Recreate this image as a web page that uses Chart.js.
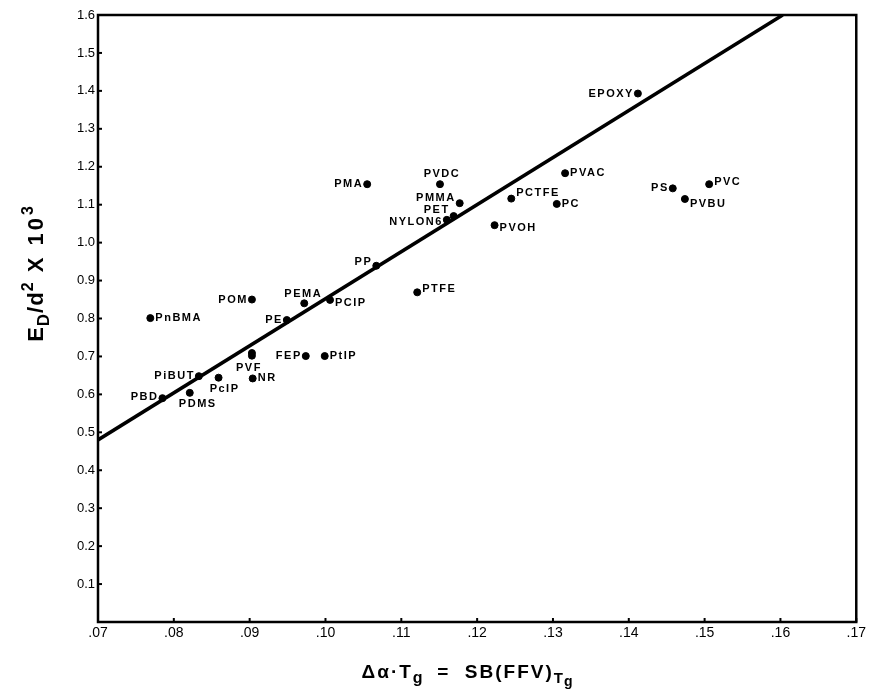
<!DOCTYPE html>
<html>
<head>
<meta charset="utf-8">
<script src="https://cdn.jsdelivr.net/npm/chart.js@4.4.0/dist/chart.umd.min.js"></script>
<style>
html, body { margin: 0; padding: 0; background: #fff; }
</style>
</head>
<body>
<canvas id="chart" width="869" height="698"></canvas>
<script>
// polymers, free volume fraction (x) and E_D/d^2 x 10^3 (y)
var polymers = ['PnBMA','POM','PEMA','PCIP','PE','PVF','','FEP','PtIP','PiBUT','PcIP','NR','PBD','PDMS',
	'PMA','PVDC','PMMA','PET','NYLON6','PCTFE','PC','PVOH','PVAC','PP','PTFE','EPOXY','PS','PVC','PVBU'];
var ffv = [0.0769,0.0903,0.0972,0.1006,0.0949,0.0903,0.0903,0.0974,0.0999,0.0833,0.0859,0.0904,0.0785,0.0821,
	0.1055,0.1151,0.1177,0.1169,0.1160,0.1245,0.1305,0.1223,0.1316,0.1067,0.1121,0.1412,0.1458,0.1506,0.1474];
var energy = [0.801,0.850,0.840,0.849,0.796,0.702,0.709,0.701,0.701,0.648,0.644,0.642,0.590,0.604,
	1.154,1.154,1.104,1.070,1.060,1.116,1.102,1.046,1.183,0.939,0.869,1.393,1.143,1.154,1.115];

// fitted straight line
var fitX = [0.07, 0.1603];
var fitY = [0.48, 1.60];

// axis ticks
var xTicks = [0.07,0.08,0.09,0.10,0.11,0.12,0.13,0.14,0.15,0.16,0.17];
var yTicks = [0.1,0.2,0.3,0.4,0.5,0.6,0.7,0.8,0.9,1.0,1.1,1.2,1.3,1.4,1.5,1.6];

// where each label sits relative to its dot: side, dx, dy
var labelPlace = {
	PnBMA:['r',0,0], POM:['l',0,0], PEMA:['t',-1,-9], PCIP:['r',0,3], PE:['l',0,0],
	PVF:['b',-3,12], FEP:['l',0,0], PtIP:['r',0,0], PiBUT:['l',0,0], PcIP:['b',6,11],
	NR:['r',0,0], PBD:['l',0,-1], PDMS:['b',8,11], PMA:['l',0,0], PVDC:['t',2,-10],
	PMMA:['l',0,-5], PET:['l',0,-6], NYLON6:['l',0,2], PCTFE:['r',0,-6], PC:['r',0,0],
	PVOH:['r',0,3], PVAC:['r',0,0], PP:['l',0,-4], PTFE:['r',0,-3], EPOXY:['l',0,0],
	PS:['l',0,0], PVC:['r',0,-2], PVBU:['r',0,5]
};

var points = [];
for (var i = 0; i < ffv.length; i++) points.push({x: ffv[i], y: energy[i]});
var fitLine = [];
for (var j = 0; j < fitX.length; j++) fitLine.push({x: fitX[j], y: fitY[j]});

function drawParts(ctx, parts, x, y, center) {
	var w = 0;
	parts.forEach(function(p) {
		ctx.font = 'bold ' + p.size + 'px "Liberation Sans", Arial, sans-serif';
		ctx.letterSpacing = (p.ls || 0) + 'px';
		w += ctx.measureText(p.t).width;
	});
	var cx = center ? x - w / 2 : x;
	parts.forEach(function(p) {
		ctx.font = 'bold ' + p.size + 'px "Liberation Sans", Arial, sans-serif';
		ctx.letterSpacing = (p.ls || 0) + 'px';
		ctx.fillText(p.t, cx, y + (p.dy || 0));
		cx += ctx.measureText(p.t).width;
	});
	ctx.letterSpacing = '0px';
}

var decorations = {
	id: 'decorations',
	afterDraw: function(chart) {
		var ctx = chart.ctx;
		var a = chart.chartArea;
		var xs = chart.scales.x, ys = chart.scales.y;
		ctx.save();
		ctx.strokeStyle = '#000';
		ctx.fillStyle = '#000';

		// frame
		ctx.lineWidth = 2.5;
		ctx.strokeRect(a.left, a.top, a.right - a.left, a.bottom - a.top);

		// small inward ticks
		ctx.lineWidth = 2;
		yTicks.forEach(function(v) {
			var py = ys.getPixelForValue(v);
			ctx.beginPath(); ctx.moveTo(a.left, py); ctx.lineTo(a.left + 4, py); ctx.stroke();
		});
		xTicks.forEach(function(v) {
			var px = xs.getPixelForValue(v);
			ctx.beginPath(); ctx.moveTo(px, a.bottom); ctx.lineTo(px, a.bottom - 4); ctx.stroke();
		});

		// point labels
		ctx.font = 'bold 11px "Liberation Sans", Arial, sans-serif';
		ctx.letterSpacing = '1.5px';
		ctx.textBaseline = 'middle';
		polymers.forEach(function(name, k) {
			if (!name) return;
			var pl = labelPlace[name];
			var px = xs.getPixelForValue(ffv[k]) + pl[1];
			var py = ys.getPixelForValue(energy[k]) + pl[2];
			if (pl[0] === 'r') { ctx.textAlign = 'left'; px += 5; }
			else if (pl[0] === 'l') { ctx.textAlign = 'right'; px -= 4; }
			else ctx.textAlign = 'center';
			ctx.fillText(name, px, py);
		});
		ctx.letterSpacing = '0px';

		// x axis title
		ctx.textAlign = 'left';
		ctx.textBaseline = 'alphabetic';
		drawParts(ctx, [
			{t: 'Δα·T', size: 19, ls: 2},
			{t: 'g', size: 16, dy: 5},
			{t: '  =  SB(FFV)', size: 19, ls: 2},
			{t: 'T', size: 15, dy: 5, ls: 1},
			{t: 'g', size: 14, dy: 8}
		], 467, 678, true);

		// y axis title
		ctx.translate(43, 274);
		ctx.rotate(-Math.PI / 2);
		drawParts(ctx, [
			{t: 'E', size: 22, ls: 1},
			{t: 'D', size: 17, dy: 6, ls: 1},
			{t: '/d', size: 22, ls: 1},
			{t: '2', size: 16, dy: -10, ls: 1},
			{t: ' X 10', size: 22, ls: 3},
			{t: '3', size: 16, dy: -10}
		], 0, 0, true);
		ctx.restore();
	}
};

new Chart(document.getElementById('chart'), {
	type: 'scatter',
	data: {
		datasets: [{
			data: points,
			backgroundColor: '#000',
			borderColor: '#000',
			pointRadius: 3.5,
			pointHoverRadius: 3.5
		}, {
			type: 'line',
			data: fitLine,
			borderColor: '#000',
			borderWidth: 3.5,
			pointRadius: 0,
			fill: false
		}]
	},
	options: {
		responsive: false,
		animation: false,
		events: [],
		layout: {padding: {top: 15, right: 12, left: 0, bottom: 0}},
		plugins: {legend: {display: false}, tooltip: {enabled: false}},
		scales: {
			x: {
				type: 'linear',
				min: 0.07, max: 0.17,
				afterFit: function(s) { s.height = 76; },
				afterBuildTicks: function(s) { s.ticks = xTicks.map(function(v) { return {value: v}; }); },
				grid: {display: false, drawTicks: false},
				border: {display: false},
				ticks: {
					padding: 3,
					color: '#000',
					autoSkip: false,
					maxRotation: 0,
					font: {family: '"Liberation Sans", Arial, sans-serif', size: 14},
					callback: function(v) { return v.toFixed(2).replace(/^0/, ''); }
				}
			},
			y: {
				type: 'linear',
				min: 0, max: 1.6,
				afterFit: function(s) { s.width = 98; },
				afterBuildTicks: function(s) { s.ticks = yTicks.map(function(v) { return {value: v}; }); },
				grid: {display: false, drawTicks: false},
				border: {display: false},
				ticks: {
					padding: 3,
					color: '#000',
					autoSkip: false,
					font: {family: '"Liberation Sans", Arial, sans-serif', size: 13},
					callback: function(v) { return v.toFixed(1); }
				}
			}
		}
	},
	plugins: [decorations]
});
</script>
</body>
</html>
